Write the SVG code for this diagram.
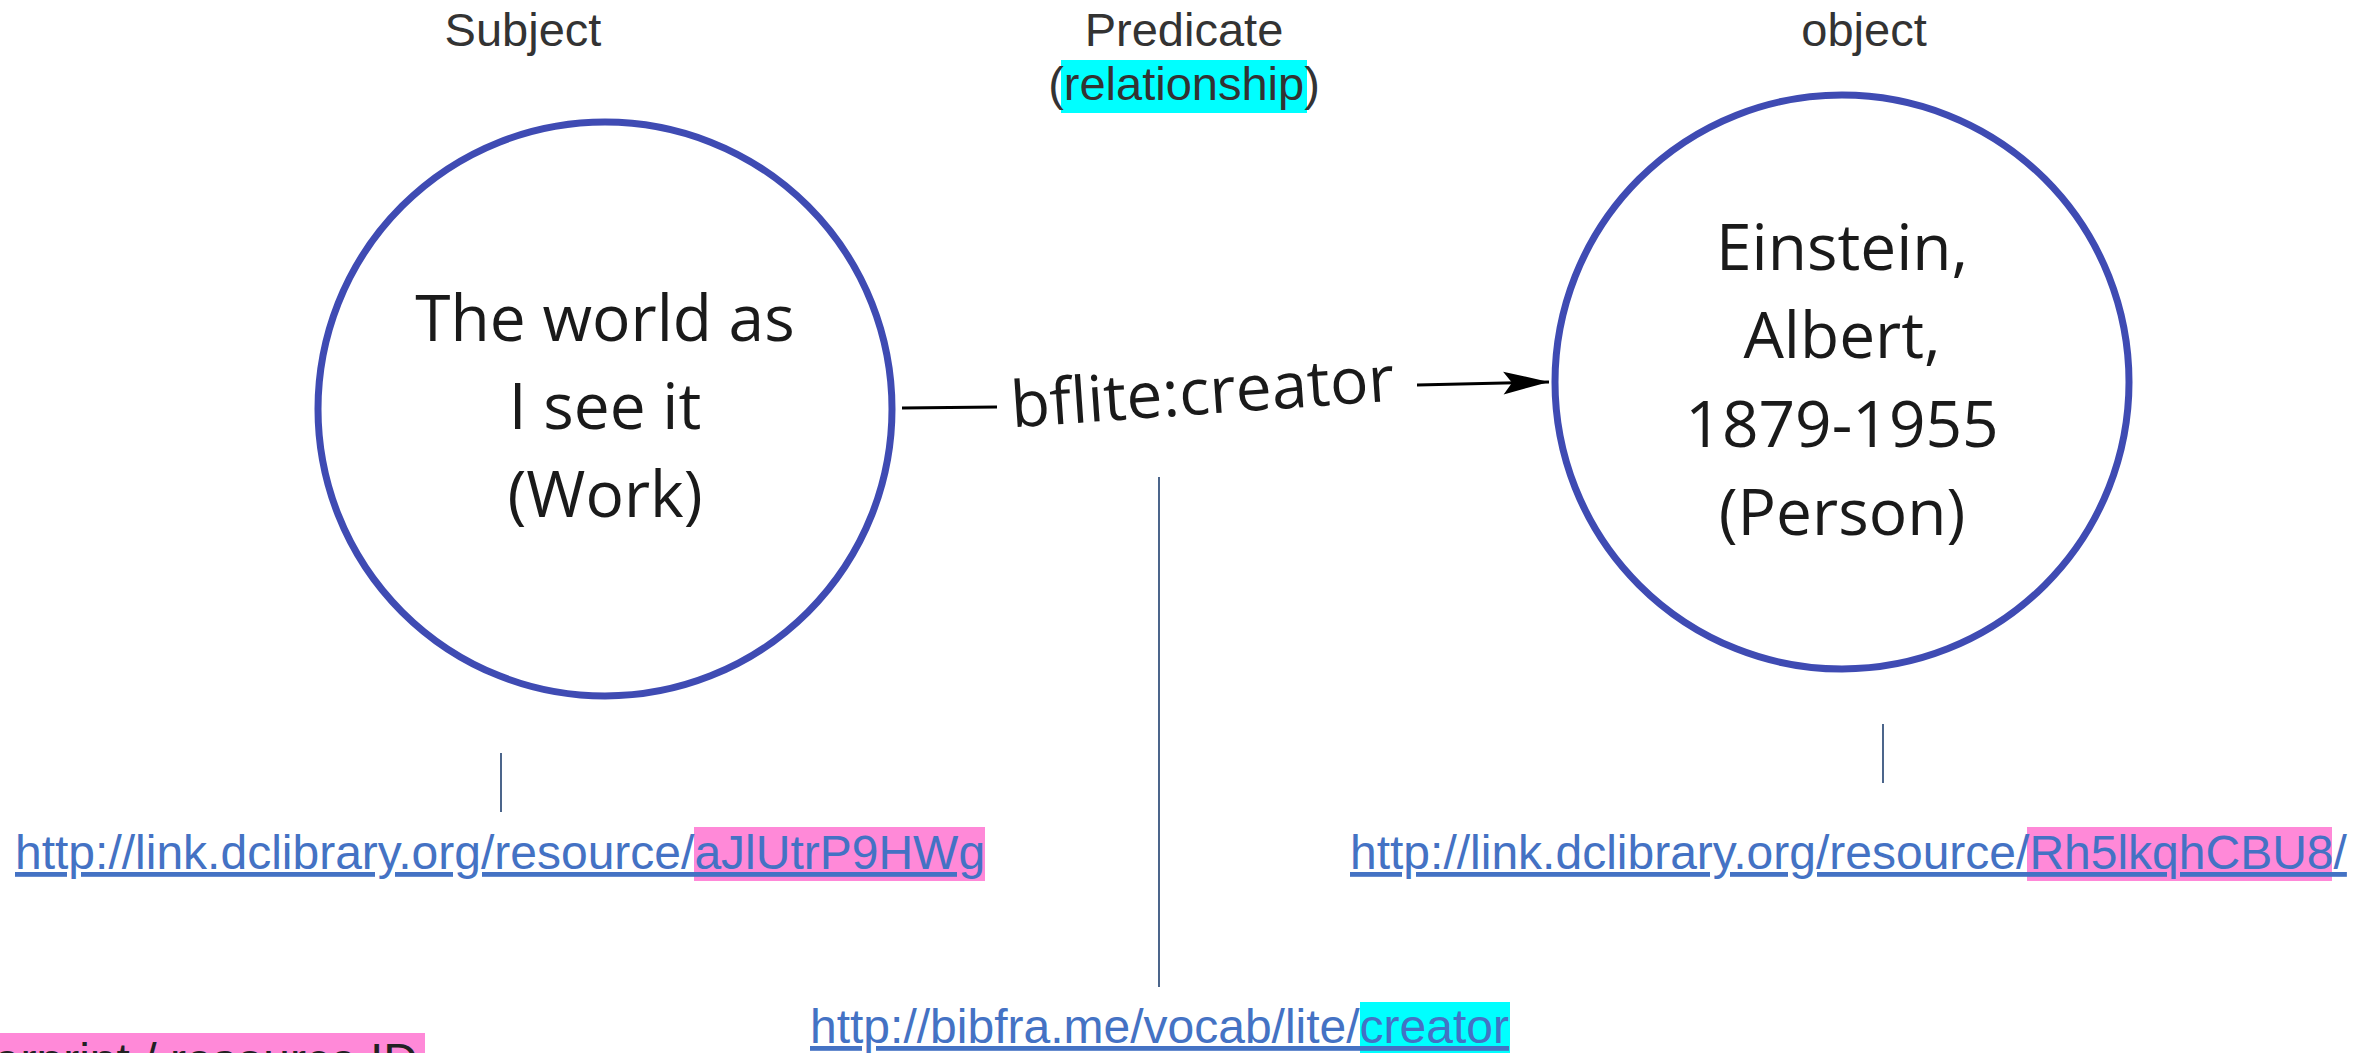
<svg xmlns="http://www.w3.org/2000/svg" width="2377" height="1053" viewBox="0 0 2377 1053">
<style>
.title{font-family:"Liberation Sans",Arial,sans-serif;font-size:47px;fill:#333333;text-anchor:middle}
.node{fill:#ffffff;stroke:#3f4bb3;stroke-width:7}
.ntext{font-family:"Open Sans","Noto Sans",sans-serif;font-size:64px;fill:#1a1a1a;text-anchor:middle}
.url{font-family:"Liberation Sans",Arial,sans-serif;font-size:48px;fill:#4472c4;text-decoration:underline}
.pink{fill:#ff89d8}
.cyan{fill:#00ffff}
.conn{stroke:#000000;stroke-width:3;fill:none}
.tick{stroke:#1f3f6e;stroke-width:1.6}
</style>
<defs>
<marker id="arrow" markerUnits="userSpaceOnUse" markerWidth="50" markerHeight="30" viewBox="-44 -12 46 24" refX="0" refY="0" orient="auto">
<path d="M0,0 L-42,-10.5 L-34,0 L-42,10.5 Z" fill="#000000"/>
</marker>
</defs>
<rect width="2377" height="1053" fill="#ffffff"/>

<g id="labels">
<text class="title" x="523" y="46">Subject</text>
<text class="title" x="1184" y="46">Predicate</text>
<rect class="cyan" x="1061" y="60" width="246" height="53"/>
<text class="title" x="1184" y="100">(relationship)</text>
<text class="title" x="1864" y="46">object</text>
</g>

<g id="subject">
<circle class="node" cx="605" cy="409" r="287"/>
<text class="ntext" x="605" y="341">The world as</text>
<text class="ntext" x="605" y="429">I see it</text>
<text class="ntext" x="605" y="517">(Work)</text>
</g>

<g id="object">
<circle class="node" cx="1842" cy="382" r="287"/>
<text class="ntext" x="1842" y="270">Einstein,</text>
<text class="ntext" x="1842" y="358">Albert,</text>
<text class="ntext" x="1842" y="447">1879-1955</text>
<text class="ntext" x="1842" y="535">(Person)</text>
</g>

<g id="connectors">
<line class="conn" x1="902" y1="408" x2="997" y2="407"/>
<line class="conn" x1="1417" y1="385" x2="1549" y2="382" marker-end="url(#arrow)"/>
<line class="tick" x1="501" y1="753" x2="501" y2="812"/>
<line class="tick" x1="1159" y1="477" x2="1159" y2="987"/>
<line class="tick" x1="1883" y1="724" x2="1883" y2="783"/>
</g>

<g id="predicate-label">
<text class="ntext" x="1204" y="414" transform="rotate(-4 1204 414)">bflite:creator</text>
</g>

<g id="subject-uri">
<rect class="pink" x="694" y="827" width="291" height="54"/>
<text class="url" x="15" y="869">http://link.dclibrary.org/resource/aJlUtrP9HWg</text>
</g>

<g id="object-uri">
<rect class="pink" x="2027" y="827" width="305" height="54"/>
<text class="url" x="1350" y="869">http://link.dclibrary.org/resource/Rh5lkqhCBU8/</text>
</g>

<g id="predicate-uri">
<rect class="cyan" x="1360" y="1002" width="150" height="51"/>
<text class="url" x="810" y="1043">http://bibfra.me/vocab/lite/creator</text>
</g>

<g id="legend">
<rect class="pink" x="0" y="1033" width="425" height="20"/>
<text x="418" y="1077" font-family="'Liberation Sans',Arial,sans-serif" font-size="48" fill="#222222" text-anchor="end">erprint / resource ID</text>
</g>
</svg>
